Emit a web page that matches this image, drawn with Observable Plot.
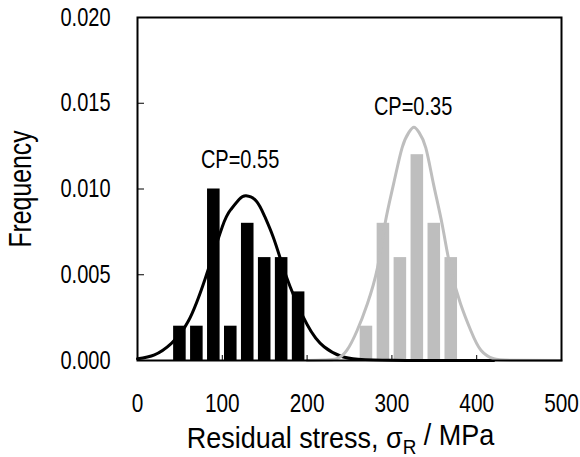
<!DOCTYPE html>
<html>
<head>
<meta charset="utf-8">
<script src="https://cdn.jsdelivr.net/npm/d3@7"></script>
<script src="https://cdn.jsdelivr.net/npm/@observablehq/plot@0.6"></script>
<style>
  html, body { margin: 0; padding: 0; background: #fff; }
  #chart svg { display: block; }
</style>
</head>
<body>
<div id="chart"></div>
<script>
// Histogram bins (bin centre, MPa) and frequencies
const blackBinX = [50, 70, 90, 110, 130, 150, 170, 190];
const blackFreq = [0.002, 0.002, 0.010, 0.002, 0.008, 0.006, 0.006, 0.004];
const grayBinX = [270, 290, 310, 330, 350, 370];
const grayFreq = [0.002, 0.008, 0.006, 0.012, 0.008, 0.006];

// Fitted distribution curves
const blackCurveX = [0, 20, 40, 60, 80, 100, 110, 120, 128, 140, 150, 160, 170, 180, 200, 220, 240, 260, 300, 350, 420];
const blackCurveY = [0.0001, 0.00033, 0.0010, 0.0023, 0.0048, 0.0078, 0.0088, 0.0094, 0.0096, 0.0093, 0.0084, 0.0072, 0.0057, 0.0043, 0.0021, 0.0008, 0.00025, 0.00008, 0.00001, 0, 0];
const grayCurveX = [200, 220, 235, 247, 259, 271, 283, 292, 302, 312, 320, 326, 332, 340, 349, 359, 369, 381, 393, 405, 420, 440, 500];
const grayCurveY = [0, 0.00003, 0.0001, 0.0006, 0.00175, 0.0033, 0.0054, 0.0080, 0.0103, 0.0124, 0.0133, 0.0136, 0.0133, 0.0124, 0.0103, 0.0080, 0.0054, 0.0033, 0.00175, 0.0006, 0.0001, 0.00002, 0];

// Annotations
const labelText = ["CP=0.55", "CP=0.35"];
const labelX = [121, 325];
const labelY = [0.0117, 0.0148];

// Axis ticks
const xTicks = [0, 100, 200, 300, 400, 500];
const yTicks = [0, 0.005, 0.010, 0.015, 0.020];

const FONT = "'Liberation Sans', Arial, sans-serif";
const GRAY = "#bebebe";
const TITLE = "Residual stress, σ";

const blackBars = blackBinX.map((x, i) => ({x, f: blackFreq[i]}));
const grayBars = grayBinX.map((x, i) => ({x, f: grayFreq[i]}));
const blackCurve = blackCurveX.map((x, i) => ({x, y: blackCurveY[i]}));
const grayCurve = grayCurveX.map((x, i) => ({x, y: grayCurveY[i]}));
const labels = labelText.map((t, i) => ({t, x: labelX[i], y: labelY[i]}));

const barOpts = {x1: d => d.x - 10, x2: d => d.x + 10, y: "f", insetLeft: 2.2, insetRight: 2.2};

const plot = Plot.plot({
  width: 580,
  height: 457,
  marginLeft: 137,
  marginRight: 19,
  marginTop: 17,
  marginBottom: 97,
  style: {fontFamily: FONT, fontSize: "26px", color: "#000", background: "#fff"},
  x: {domain: [0, 500]},
  y: {domain: [0, 0.02]},
  marks: [
    Plot.rectY(blackBars, {...barOpts, fill: "#000"}),
    Plot.rectY(grayBars, {...barOpts, fill: GRAY}),
    Plot.line(blackCurve, {x: "x", y: "y", stroke: "#000", strokeWidth: 3, curve: "natural"}),
    Plot.line(grayCurve, {x: "x", y: "y", stroke: GRAY, strokeWidth: 3, curve: "natural"}),
    Plot.frame({stroke: "#000", strokeWidth: 2}),
    Plot.axisX({ticks: xTicks, tickFormat: d3.format("d"), tickSize: -5, tickPadding: 38, label: null, fontSize: 26}),
    Plot.axisY({ticks: yTicks, tickFormat: d3.format(".3f"), tickSize: -7, tickPadding: 34, label: null, fontSize: 25}),
    Plot.text(labels, {x: "x", y: "y", text: "t", fontSize: 25, fill: "#000"}),
    Plot.text([TITLE], {frameAnchor: "bottom", textAnchor: "middle", dy: 87, dx: -9, fontSize: 30, fill: "#000"}),
    Plot.text(["Frequency"], {frameAnchor: "left", textAnchor: "middle", dx: -116, rotate: -90, fontSize: 31, fill: "#000"})
  ]
});

document.getElementById("chart").appendChild(plot);

// condense lettering horizontally (Arial Narrow-like), about each text's anchor
d3.select(plot).selectAll("text").each(function() {
  const k = this.textContent === TITLE ? 0.9 : 0.8;
  const tr = this.getAttribute("transform") || "";
  this.setAttribute("transform", (tr + ` scale(${k},1)`).trim());
});

// add subscript R and the unit to the x-axis title
d3.select(plot).selectAll("text").filter(function() { return this.textContent === TITLE; })
  .each(function() {
    const t = d3.select(this);
    t.text(null);
    t.append("tspan").text(TITLE);
    t.append("tspan").attr("font-size", 21).attr("dy", "0.3em").text("R");
    t.append("tspan").attr("dy", "-0.3em").text(" / MPa");
  });
</script>
</body>
</html>
